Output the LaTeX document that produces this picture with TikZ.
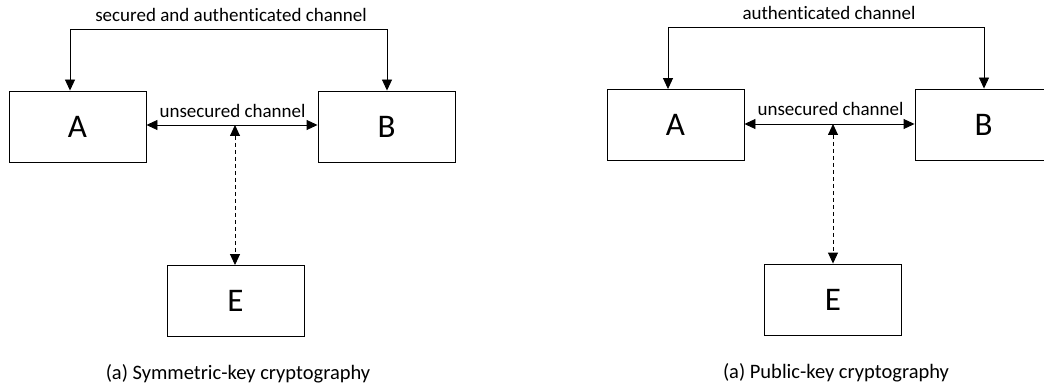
\documentclass[tikz,border=0pt]{standalone}
\usepackage{fontspec}
\setmainfont[Ligatures=NoCommon]{Carlito}
\usetikzlibrary{arrows.meta}
\begin{document}
\begin{tikzpicture}[x=1pt,y=-1pt,
  party/.style={draw, line width=0.9pt, minimum width=137pt, minimum height=71pt,
    inner sep=0pt, font=\fontsize{33}{33}\selectfont},
  link/.style={line width=0.9pt, {Triangle[length=11pt,width=10pt]}-{Triangle[length=11pt,width=10pt]}},
  tap/.style={link, dash pattern=on 4pt off 3pt},
  lbl/.style={anchor=base, inner sep=0pt, font=\fontsize{19}{19}\selectfont},
  caption/.style={anchor=base, inner sep=0pt, font=\fontsize{20.5}{20.5}\selectfont}]
\clip (0,0) rectangle (1044,390);

% --- symmetric-key setting ---
\node[party] (A1) at (77.5,126.5) {A};
\node[party] (B1) at (386.5,126.5) {B};
\node[party] (E1) at (235.5,301) {E};
\coordinate (s1) at (70,29);
\coordinate (s2) at (387,29);
\coordinate (u1) at (235,125);
\draw[link] (A1.north -| s1) -- (s1) -- (s2) -- (B1.north -| s2);
\draw[link] (A1.east |- u1) -- (B1.west |- u1);
\draw[tap] (u1) -- (E1.north -| u1);
\node[lbl] (ls1) at (231,22) {secured and authenticated channel};
\node[lbl] (lu1) at (232.5,118) {unsecured channel};
\node[caption] (c1) at (238,379) {(a) Symmetric-key cryptography};

% --- public-key setting ---
\node[party] (A2) at (675.5,125) {A};
\node[party] (B2) at (983.5,124.5) {B};
\node[party] (E2) at (833,299.5) {E};
\coordinate (s3) at (668,27);
\coordinate (s4) at (984,27);
\coordinate (u2) at (833,124);
\draw[link] (A2.north -| s3) -- (s3) -- (s4) -- (B2.north -| s4);
\draw[link] (A2.east |- u2) -- (B2.west |- u2);
\draw[tap] (u2) -- (E2.north -| u2);
\node[lbl] (ls2) at (829,20) {authenticated channel};
\node[lbl] (lu2) at (830.5,116) {unsecured channel};
\node[caption] (c2) at (836,378) {(a) Public-key cryptography};
\end{tikzpicture}
\end{document}
